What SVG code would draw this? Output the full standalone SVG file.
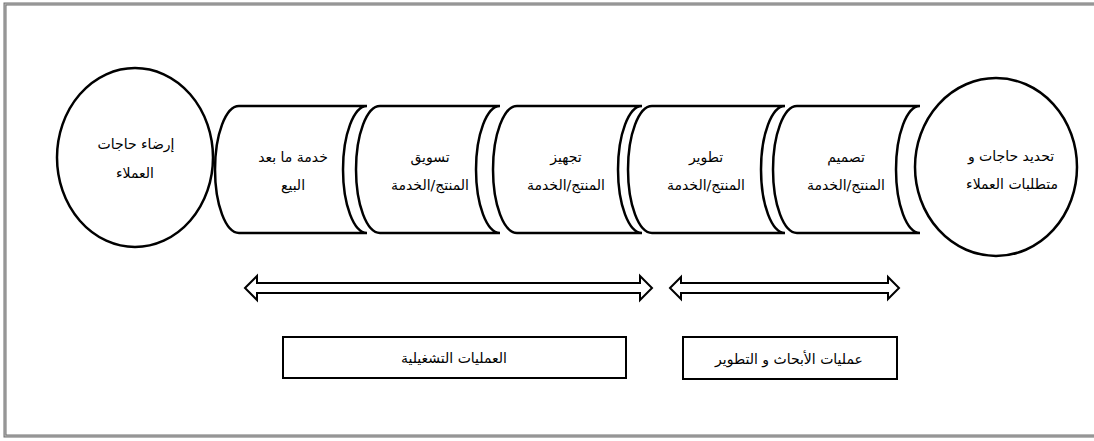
<svg xmlns="http://www.w3.org/2000/svg" width="1094" height="441" viewBox="0 0 1094 441">
<style>
.shape{fill:#fff;stroke:#000;stroke-width:2.5}
.arrow{fill:#fff;stroke:#000;stroke-width:2;stroke-linejoin:miter}
.box{fill:#fff;stroke:#000;stroke-width:2}
text{font-family:"DejaVu Sans",sans-serif;font-size:14px;fill:#000;text-anchor:middle;direction:rtl}
</style>
<rect x="0" y="0" width="1094" height="441" fill="#fff"/>
<rect x="5" y="4" width="1100" height="432" fill="none" stroke="#6e6e6e" stroke-width="3"/>
<rect x="5" y="4" width="1100" height="432" fill="none" stroke="#bdbdbd" stroke-width="1"/>
<g id="node-satisfy">
<ellipse class="shape" cx="135" cy="157.5" rx="78" ry="89.5"/>
<text x="136" y="149">إرضاء حاجات</text>
<text x="135" y="178">العملاء</text>
</g>
<g id="node-aftersales">
<path class="shape" d="M239,106 H367 A24 63.5 0 0 0 367,233 H239 A24 63.5 0 0 1 239,106 Z"/>
<text x="293" y="162">خدمة ما بعد</text>
<text x="293" y="190">البيع</text>
</g>
<g id="node-marketing">
<path class="shape" d="M380,106 H500 A24 63.5 0 0 0 500,233 H380 A24 63.5 0 0 1 380,106 Z"/>
<text x="430" y="162">تسويق</text>
<text x="430" y="190">المنتج/الخدمة</text>
</g>
<g id="node-prepare">
<path class="shape" d="M517,106 H642 A24 63.5 0 0 0 642,233 H517 A24 63.5 0 0 1 517,106 Z"/>
<text x="566" y="162">تجهيز</text>
<text x="566" y="190">المنتج/الخدمة</text>
</g>
<g id="node-develop">
<path class="shape" d="M652,106 H785 A24 63.5 0 0 0 785,233 H652 A24 63.5 0 0 1 652,106 Z"/>
<text x="706" y="162">تطوير</text>
<text x="706" y="190">المنتج/الخدمة</text>
</g>
<g id="node-design">
<path class="shape" d="M797,106 H920 A24 63.5 0 0 0 920,233 H797 A24 63.5 0 0 1 797,106 Z"/>
<text x="846" y="162">تصميم</text>
<text x="846" y="190">المنتج/الخدمة</text>
</g>
<g id="node-identify">
<ellipse class="shape" cx="996" cy="167" rx="81" ry="89"/>
<text x="1011" y="161">تحديد حاجات و</text>
<text x="1012" y="189">متطلبات العملاء</text>
</g>
<g id="connectors">
<polygon class="arrow" points="245,288 257,276 257,283 640,283 640,276 652,288 640,300 640,293 257,293 257,300"/>
<polygon class="arrow" points="670,288 681,277 681,283 888,283 888,277 899,288 888,299 888,293 681,293 681,299"/>
</g>
<g id="node-operations">
<rect class="box" x="283" y="337" width="343" height="41"/>
<text x="454" y="363">العمليات التشغيلية</text>
</g>
<g id="node-rnd">
<rect class="box" x="683" y="337" width="214" height="42"/>
<text x="789" y="364">عمليات الأبحاث و التطوير</text>
</g>
</svg>
